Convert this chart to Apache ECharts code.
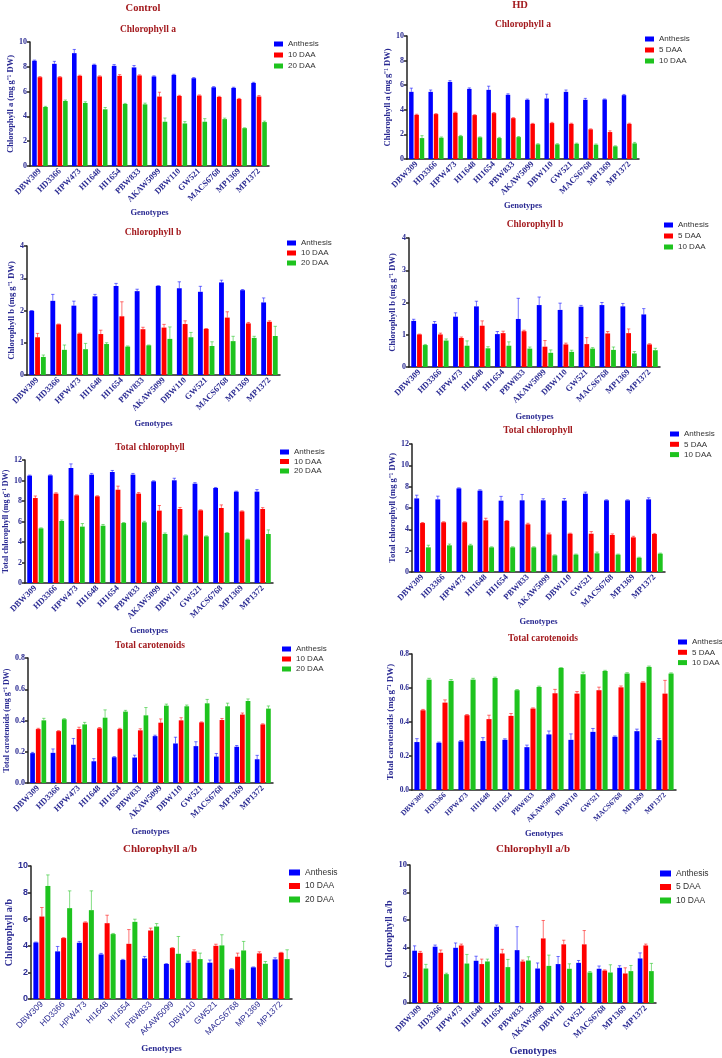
<!DOCTYPE html>
<html>
<head>
<meta charset="utf-8">
<script src="https://cdn.jsdelivr.net/npm/echarts@6/dist/echarts.min.js"></script>
<style>
  body { margin: 0; background: #fff; }
  .pane { position: absolute; left: 0; top: 0; width: 722px; height: 1058px; }
</style>
</head>
<body>
<div id="p1" class="pane"></div>
<div id="p2" class="pane"></div>
<div id="p3" class="pane"></div>
<div id="p4" class="pane"></div>
<div id="p5" class="pane"></div>
<div id="p6" class="pane"></div>
<div id="p7" class="pane"></div>
<div id="p8" class="pane"></div>
<div id="p9" class="pane"></div>
<div id="p10" class="pane"></div>
<script>
// genotypes + stages
var genotypes = ['DBW309', 'HD3366', 'HPW473', 'HI1648', 'HI1654', 'PBW833', 'AKAW5099', 'DBW110', 'GW521', 'MACS6768', 'MP1369', 'MP1372'];
var ctlStages = ['Anthesis', '10 DAA', '20 DAA'];
var hdStages = ['Anthesis', '5 DAA', '10 DAA'];

// chlorophyll a (mg g-1 DW)
var ctlChlA = [[8.49, 8.24, 9.1, 8.16, 8.08, 7.95, 7.22, 7.35, 7.08, 6.35, 6.3, 6.7],
               [7.16, 7.16, 7.27, 7.22, 7.27, 7.3, 5.6, 5.65, 5.68, 5.57, 5.4, 5.6],
               [4.76, 5.24, 5.08, 4.57, 5.0, 4.97, 3.57, 3.43, 3.57, 3.78, 3.05, 3.54]];
var ctlChlAErr = [[0.05, 0.2, 0.3, 0.05, 0.1, 0.15, 0.05, 0.05, 0.05, 0.05, 0.05, 0.05],
                  [0.05, 0.05, 0.05, 0.05, 0.1, 0.05, 0.35, 0.05, 0.05, 0.05, 0.05, 0.08],
                  [0.05, 0.08, 0.1, 0.15, 0.05, 0.1, 0.3, 0.15, 0.25, 0.08, 0.03, 0.08]];
var hdChlA = [[5.46, 5.46, 6.27, 5.7, 5.62, 5.22, 4.81, 4.92, 5.46, 4.81, 4.84, 5.19],
              [3.59, 3.65, 3.76, 3.57, 3.73, 3.32, 2.86, 2.92, 2.86, 2.41, 2.19, 2.86],
              [1.7, 1.73, 1.86, 1.76, 1.7, 1.78, 1.19, 1.19, 1.24, 1.16, 1.03, 1.27]];
var hdChlAErr = [[0.3, 0.15, 0.1, 0.08, 0.3, 0.08, 0.06, 0.35, 0.15, 0.12, 0.04, 0.06],
                 [0.05, 0.04, 0.05, 0.03, 0.05, 0.04, 0.04, 0.06, 0.05, 0.04, 0.1, 0.05],
                 [0.2, 0.06, 0.06, 0.04, 0.06, 0.05, 0.05, 0.05, 0.05, 0.06, 0.04, 0.08]];

// chlorophyll b
var ctlChlB = [[1.99, 2.3, 2.15, 2.44, 2.76, 2.6, 2.76, 2.69, 2.58, 2.87, 2.63, 2.25],
               [1.17, 1.57, 1.28, 1.27, 1.82, 1.42, 1.47, 1.58, 1.43, 1.78, 1.6, 1.65],
               [0.56, 0.78, 0.8, 0.96, 0.88, 0.92, 1.12, 1.17, 0.9, 1.05, 1.15, 1.21]];
var ctlChlBErr = [[0.01, 0.2, 0.14, 0.06, 0.08, 0.06, 0.01, 0.2, 0.17, 0.07, 0.02, 0.14],
                  [0.12, 0.01, 0.02, 0.12, 0.45, 0.06, 0.1, 0.1, 0.01, 0.18, 0.03, 0.03],
                  [0.06, 0.15, 0.18, 0.04, 0.02, 0.01, 0.37, 0.15, 0.13, 0.15, 0.05, 0.3]];
var hdChlB = [[1.43, 1.34, 1.56, 1.88, 1.02, 1.49, 1.92, 1.77, 1.87, 1.92, 1.88, 1.63],
              [1.01, 1.01, 0.9, 1.28, 1.05, 1.11, 0.63, 0.7, 0.71, 1.04, 1.05, 0.7],
              [0.68, 0.82, 0.66, 0.58, 0.66, 0.57, 0.44, 0.47, 0.57, 0.53, 0.42, 0.52]];
var hdChlBErr = [[0.05, 0.07, 0.12, 0.16, 0.08, 0.64, 0.25, 0.21, 0.04, 0.08, 0.09, 0.18],
                 [0.01, 0.04, 0.03, 0.15, 0.06, 0.03, 0.19, 0.04, 0.2, 0.06, 0.13, 0.02],
                 [0.02, 0.05, 0.15, 0.05, 0.12, 0.05, 0.09, 0.05, 0.03, 0.09, 0.06, 0.06]];

// total chlorophyll
var ctlTot = [[10.47, 10.5, 11.22, 10.57, 10.83, 10.57, 9.92, 10.02, 9.69, 9.27, 8.91, 8.91],
              [8.29, 8.72, 8.55, 8.46, 9.1, 8.72, 7.06, 7.22, 7.09, 7.32, 6.99, 7.22],
              [5.33, 6.05, 5.5, 5.59, 5.85, 5.92, 4.78, 4.65, 4.55, 4.88, 4.23, 4.78]];
var ctlTotErr = [[0.05, 0.05, 0.4, 0.12, 0.15, 0.12, 0.05, 0.2, 0.1, 0.05, 0.05, 0.2],
                 [0.2, 0.08, 0.05, 0.05, 0.35, 0.1, 0.5, 0.15, 0.05, 0.3, 0.05, 0.13],
                 [0.05, 0.1, 0.3, 0.12, 0.05, 0.1, 0.1, 0.05, 0.05, 0.05, 0.05, 0.4]];
var hdTot = [[6.9, 6.81, 7.84, 7.63, 6.69, 6.72, 6.72, 6.69, 7.34, 6.72, 6.72, 6.81],
             [4.59, 4.66, 4.66, 4.84, 4.78, 4.47, 3.53, 3.59, 3.59, 3.47, 3.25, 3.56],
             [2.31, 2.5, 2.5, 2.31, 2.31, 2.31, 1.56, 1.63, 1.75, 1.63, 1.34, 1.72]];
var hdTotErr = [[0.3, 0.3, 0.05, 0.08, 0.4, 0.55, 0.15, 0.2, 0.15, 0.05, 0.05, 0.15],
                [0.05, 0.05, 0.05, 0.2, 0.05, 0.1, 0.12, 0.05, 0.2, 0.1, 0.1, 0.06],
                [0.2, 0.12, 0.1, 0.05, 0.05, 0.05, 0.05, 0.05, 0.12, 0.05, 0.05, 0.05]];

// total carotenoids
var ctlCar = [[0.191, 0.193, 0.245, 0.139, 0.165, 0.163, 0.3, 0.253, 0.236, 0.169, 0.232, 0.152],
              [0.345, 0.332, 0.345, 0.35, 0.345, 0.337, 0.386, 0.401, 0.388, 0.403, 0.438, 0.375],
              [0.401, 0.408, 0.375, 0.418, 0.457, 0.433, 0.495, 0.491, 0.51, 0.491, 0.525, 0.476]];
var ctlCarErr = [[0.005, 0.025, 0.04, 0.017, 0.004, 0.015, 0.006, 0.04, 0.028, 0.02, 0.008, 0.025],
                 [0.005, 0.003, 0.012, 0.005, 0.005, 0.01, 0.024, 0.017, 0.003, 0.01, 0.01, 0.004],
                 [0.013, 0.004, 0.013, 0.05, 0.008, 0.05, 0.01, 0.008, 0.025, 0.02, 0.013, 0.017]];
var hdCar = [[0.282, 0.278, 0.286, 0.288, 0.295, 0.252, 0.327, 0.295, 0.342, 0.313, 0.346, 0.293],
             [0.469, 0.514, 0.44, 0.417, 0.436, 0.479, 0.569, 0.567, 0.587, 0.604, 0.632, 0.567],
             [0.649, 0.642, 0.649, 0.659, 0.587, 0.606, 0.718, 0.681, 0.7, 0.685, 0.724, 0.685]];
var hdCarErr = [[0.02, 0.004, 0.005, 0.02, 0.006, 0.012, 0.02, 0.035, 0.02, 0.005, 0.012, 0.01],
                [0.005, 0.016, 0.004, 0.023, 0.014, 0.004, 0.023, 0.012, 0.018, 0.008, 0.005, 0.078],
                [0.008, 0.008, 0.008, 0.005, 0.004, 0.005, 0.002, 0.012, 0.004, 0.005, 0.005, 0.004]];

// chlorophyll a/b
var ctlRatio = [[4.25, 3.58, 4.23, 3.35, 2.93, 3.05, 2.63, 2.73, 2.73, 2.23, 2.38, 2.98],
                [6.2, 4.58, 5.75, 5.7, 4.15, 5.15, 3.83, 3.58, 4.0, 3.18, 3.43, 3.48],
                [8.5, 6.83, 6.68, 4.88, 5.8, 5.45, 3.4, 3.0, 4.03, 3.65, 2.65, 3.0]];
var ctlRatioErr = [[0.03, 0.37, 0.1, 0.08, 0.05, 0.15, 0.03, 0.12, 0.2, 0.05, 0.03, 0.12],
                   [0.68, 0.03, 0.05, 0.6, 1.07, 0.18, 0.03, 0.12, 0.12, 0.27, 0.12, 0.03],
                   [0.83, 1.3, 1.45, 0.05, 0.2, 0.22, 1.3, 0.45, 0.8, 0.68, 0.17, 0.7]];
var hdRatio = [[3.79, 4.08, 4.0, 3.06, 5.53, 3.83, 2.5, 2.82, 2.91, 2.48, 2.55, 3.23],
               [3.64, 3.64, 4.17, 2.82, 3.59, 3.01, 4.68, 4.25, 4.25, 2.35, 2.14, 4.17],
               [2.5, 2.09, 2.86, 3.01, 2.6, 3.08, 2.69, 2.48, 2.21, 2.21, 2.31, 2.31]];
var hdRatioErr = [[0.35, 0.12, 0.35, 0.33, 0.12, 1.7, 0.4, 0.55, 0.17, 0.2, 0.15, 0.4],
                  [0.1, 0.2, 0.1, 0.36, 0.3, 0.1, 1.3, 0.3, 1.0, 0.05, 0.41, 0.1],
                  [0.3, 0.07, 0.66, 0.17, 0.56, 0.27, 0.78, 0.36, 0.07, 0.56, 0.41, 0.56]];

var COLORS = ['#0000ff', '#ff0000', '#1ec31e'];
var NAVY = '#2a2a92';
var DARKRED = '#a31a1e';
var SERIF = "'Liberation Serif', 'Times New Roman', serif";
var SANS = "'Liberation Sans', Arial, sans-serif";
var BAR_W = 0.23;
var BAR_GAP = 0.2;

// error bar drawn over bar s of each group
function errItem(s, color) {
  return function (params, api) {
    var base = api.coord([api.value(0), api.value(1)]);
    var top = api.coord([api.value(0), api.value(1) + api.value(2)]);
    var band = api.size([1, 0])[0];
    var bw = band * BAR_W;
    var x = base[0] + (s - 1) * bw * (1 + BAR_GAP);
    var cap = bw * 0.35;
    var st = { stroke: color, lineWidth: 1, opacity: 0.55 };
    return {
      type: 'group',
      children: [
        { type: 'line', shape: { x1: x, y1: base[1], x2: x, y2: top[1] }, style: st },
        { type: 'line', shape: { x1: x - cap, y1: top[1], x2: x + cap, y2: top[1] }, style: st }
      ]
    };
  };
}

function draw(p) {
  var chart = echarts.init(document.getElementById(p.id));
  var series = [];
  p.vals.forEach(function (vals, s) {
    series.push({
      type: 'bar', name: p.names[s], data: vals,
      barWidth: BAR_W * 100 + '%', barGap: BAR_GAP * 100 + '%',
      itemStyle: { color: COLORS[s] }, silent: true, animation: false
    });
  });
  p.vals.forEach(function (vals, s) {
    series.push({
      type: 'custom', name: 'err' + s, z: 3, silent: true, animation: false,
      renderItem: errItem(s, COLORS[s]),
      encode: { x: 0, y: 1 },
      data: vals.map(function (v, i) { return [i, v, p.errs[s][i]]; })
    });
  });

  var tickFont = p.sansTicks ? SANS : SERIF;
  var texts = p.titles.map(function (t) {
    return {
      type: 'text', x: t[1], y: t[2],
      style: { text: t[0], fill: DARKRED, font: 'bold ' + t[3] + 'px ' + SERIF, textAlign: 'center', textVerticalAlign: 'middle' }
    };
  });

  chart.setOption({
    animation: false,
    grid: { left: p.grid[0], top: p.grid[1], width: p.grid[2], height: p.grid[3] },
    legend: {
      orient: 'vertical', left: p.leg[0], top: p.leg[1], padding: 0,
      itemWidth: p.legIcon[0], itemHeight: p.legIcon[1], itemGap: p.leg[2] - p.legFont,
      icon: 'rect', selectedMode: false, data: p.names,
      textStyle: { fontFamily: SANS, fontSize: p.legFont, lineHeight: p.legFont, color: '#333' }
    },
    xAxis: {
      type: 'category', data: genotypes,
      name: 'Genotypes', nameLocation: 'middle', nameGap: p.xGap,
      nameTextStyle: { fontFamily: SERIF, fontWeight: 'bold', fontSize: p.xNameFont, color: NAVY },
      axisLine: { lineStyle: { color: '#222', width: 1.5 } },
      axisTick: { alignWithLabel: true, length: 3, lineStyle: { color: '#222', width: 1.5 } },
      axisLabel: {
        interval: 0, rotate: 45, margin: 4,
        fontFamily: tickFont, fontWeight: p.sansTicks ? 'normal' : 'bold',
        fontSize: p.xFont, color: NAVY
      }
    },
    yAxis: {
      type: 'value', min: 0, max: p.yMax, interval: p.yStep,
      name: p.yName, nameLocation: 'middle', nameGap: p.yGap,
      nameTextStyle: { fontFamily: SERIF, fontWeight: 'bold', fontSize: p.yNameFont, color: NAVY },
      axisLine: { show: true, lineStyle: { color: '#222', width: 1.5 } },
      axisTick: { show: true, length: 3, lineStyle: { color: '#222', width: 1.5 } },
      splitLine: { show: false },
      axisLabel: {
        margin: 3, fontFamily: tickFont, fontWeight: 'bold', fontSize: p.yFont, color: NAVY,
        formatter: p.yFmt || function (v) { return v; }
      }
    },
    graphic: texts,
    series: series
  });
}

var carFmt = function (v) { return v.toFixed(1); };

var panels = [
  { id: 'p1', vals: ctlChlA, errs: ctlChlAErr, names: ctlStages, yMax: 10, yStep: 2,
    yName: 'Chlorophyll a (mg g⁻¹ DW)', grid: [30, 42, 239, 124], leg: [274, 40, 11],
    titles: [['Control', 143, 8, 10.5], ['Chlorophyll a', 148, 30, 9.5]],
    xGap: 42, yGap: 15, xFont: 8.5, yFont: 8, xNameFont: 8.5, yNameFont: 8.5, legFont: 8, legIcon: [9, 5] },
  { id: 'p2', vals: hdChlA, errs: hdChlAErr, names: hdStages, yMax: 10, yStep: 2,
    yName: 'Chlorophyll a (mg g⁻¹ DW)', grid: [407, 36, 232, 123], leg: [645, 35, 11],
    titles: [['HD', 520, 5, 10.5], ['Chlorophyll a', 523, 25, 9.5]],
    xGap: 42, yGap: 13.5, xFont: 8.5, yFont: 8, xNameFont: 8.5, yNameFont: 8.5, legFont: 8, legIcon: [9, 5] },
  { id: 'p3', vals: ctlChlB, errs: ctlChlBErr, names: ctlStages, yMax: 4, yStep: 1,
    yName: 'Chlorophyll b (mg g⁻¹ DW)', grid: [27, 246, 253, 129], leg: [287, 239, 10],
    titles: [['Chlorophyll b', 153, 233, 9.5]],
    xGap: 44, yGap: 10, xFont: 8.5, yFont: 8, xNameFont: 8.5, yNameFont: 8.5, legFont: 8, legIcon: [9, 5] },
  { id: 'p4', vals: hdChlB, errs: hdChlBErr, names: hdStages, yMax: 4, yStep: 1,
    yName: 'Chlorophyll b (mg g⁻¹ DW)', grid: [409, 238, 251, 129], leg: [664, 221, 11],
    titles: [['Chlorophyll b', 535, 225, 9.5]],
    xGap: 45, yGap: 11.5, xFont: 8.5, yFont: 8, xNameFont: 8.5, yNameFont: 8.5, legFont: 8, legIcon: [9, 5] },
  { id: 'p5', vals: ctlTot, errs: ctlTotErr, names: ctlStages, yMax: 12, yStep: 2,
    yName: 'Total chlorophyll (mg g⁻¹ DW)', grid: [25, 460, 248, 123], leg: [280, 448, 9.5],
    titles: [['Total chlorophyll', 150, 448, 9.5]],
    xGap: 43, yGap: 14.5, xFont: 8.5, yFont: 8, xNameFont: 8.5, yNameFont: 8, legFont: 8, legIcon: [9, 5] },
  { id: 'p6', vals: hdTot, errs: hdTotErr, names: hdStages, yMax: 12, yStep: 2,
    yName: 'Total chlorophyll (mg g⁻¹ DW)', grid: [412, 444, 253, 128], leg: [670, 430, 10.3],
    titles: [['Total chlorophyll', 538, 431, 9.5]],
    xGap: 45, yGap: 14.5, xFont: 8.5, yFont: 8, xNameFont: 8.5, yNameFont: 8.5, legFont: 8, legIcon: [9, 5] },
  { id: 'p7', vals: ctlCar, errs: ctlCarErr, names: ctlStages, yMax: 0.8, yStep: 0.2, yFmt: carFmt,
    yName: 'Total carotenoids (mg g⁻¹ DW)', grid: [28, 658, 245, 125], leg: [282, 645, 10],
    titles: [['Total carotenoids', 150, 646, 9.5]],
    xGap: 44, yGap: 17, xFont: 8.5, yFont: 8, xNameFont: 8.5, yNameFont: 8, legFont: 8, legIcon: [9, 5] },
  { id: 'p8', vals: hdCar, errs: hdCarErr, names: hdStages, yMax: 0.8, yStep: 0.2, yFmt: carFmt,
    yName: 'Total carotenoids (mg g⁻¹ DW)', grid: [412, 654, 264, 136], leg: [678, 638, 10.3],
    titles: [['Total carotenoids', 543, 639, 9.5]],
    xGap: 39, yGap: 16.5, xFont: 7.5, yFont: 7.5, xNameFont: 8.5, yNameFont: 9, legFont: 8, legIcon: [9, 5] },
  { id: 'p9', vals: ctlRatio, errs: ctlRatioErr, names: ctlStages, yMax: 10, yStep: 2,
    yName: 'Chlorophyll a/b', grid: [31, 866, 261, 133], leg: [289, 868, 13], sansTicks: true,
    titles: [['Chlorophyll a/b', 160, 849, 11]],
    xGap: 45, yGap: 16, xFont: 8.5, yFont: 9, xNameFont: 9, yNameFont: 10, legFont: 8.5, legIcon: [11, 6] },
  { id: 'p10', vals: hdRatio, errs: hdRatioErr, names: hdStages, yMax: 10, yStep: 2,
    yName: 'Chlorophyll a/b', grid: [410, 865, 246, 138], leg: [660, 869, 13],
    titles: [['Chlorophyll a/b', 533, 849, 11]],
    xGap: 43, yGap: 13, xFont: 8.5, yFont: 8.5, xNameFont: 10.5, yNameFont: 10, legFont: 8.5, legIcon: [11, 6] }
];

panels.forEach(draw);
</script>
</body>
</html>
